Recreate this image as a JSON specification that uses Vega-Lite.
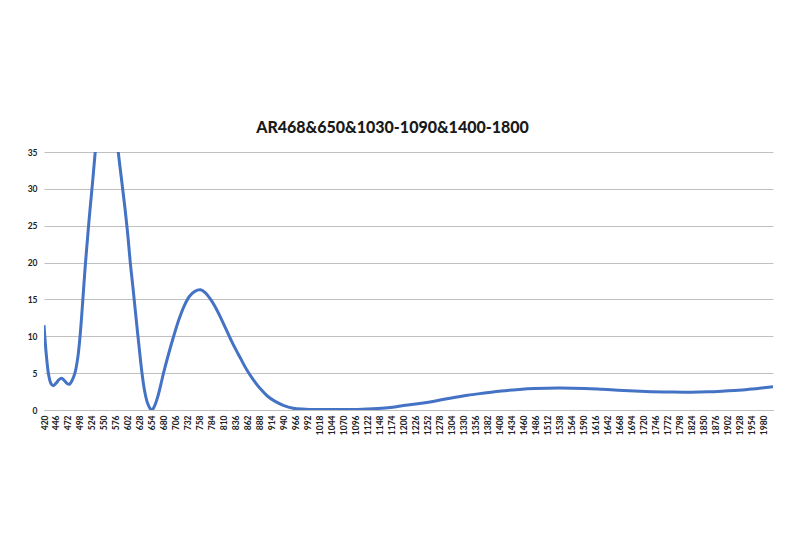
{
  "$schema": "https://vega.github.io/schema/vega-lite/v6.json",
  "autosize": {"type": "none"},
  "width": 729,
  "height": 258,
  "padding": {"left": 44, "top": 152, "right": 27, "bottom": 150},
  "background": "white",
  "title": {
    "text": "AR468&650&1030-1090&1400-1800",
    "font": "Lato",
    "fontSize": 16,
    "fontWeight": 900,
    "color": "#1a1a1a",
    "anchor": "middle",
    "dx": -16,
    "offset": 12
  },
  "data": {
    "values": [
      {"nm": 420, "v": 11.5}, {"nm": 425, "v": 7.5}, {"nm": 430, "v": 4.8}, {"nm": 435, "v": 3.6},
      {"nm": 440, "v": 3.3}, {"nm": 447, "v": 3.7}, {"nm": 452, "v": 4.1}, {"nm": 458, "v": 4.3},
      {"nm": 464, "v": 4.0}, {"nm": 470, "v": 3.6}, {"nm": 475, "v": 3.5}, {"nm": 480, "v": 3.9},
      {"nm": 487, "v": 5.0}, {"nm": 493, "v": 7.0}, {"nm": 498, "v": 9.9}, {"nm": 504, "v": 14.8},
      {"nm": 509, "v": 19.2}, {"nm": 515, "v": 23.8}, {"nm": 520, "v": 27.4}, {"nm": 526, "v": 31.4},
      {"nm": 531, "v": 35.0}, {"nm": 538, "v": 39.5}, {"nm": 546, "v": 43.5}, {"nm": 556, "v": 45.0},
      {"nm": 566, "v": 43.5}, {"nm": 574, "v": 39.5}, {"nm": 581, "v": 35.0}, {"nm": 588, "v": 31.3},
      {"nm": 596, "v": 27.1}, {"nm": 602, "v": 23.5}, {"nm": 607, "v": 20.0}, {"nm": 613, "v": 16.5},
      {"nm": 618, "v": 13.4}, {"nm": 625, "v": 9.2}, {"nm": 632, "v": 5.2}, {"nm": 638, "v": 2.6},
      {"nm": 644, "v": 1.0}, {"nm": 650, "v": 0.2}, {"nm": 654, "v": 0.0}, {"nm": 660, "v": 0.6},
      {"nm": 667, "v": 1.9}, {"nm": 673, "v": 3.4}, {"nm": 679, "v": 5.0}, {"nm": 690, "v": 7.6},
      {"nm": 701, "v": 10.0}, {"nm": 712, "v": 12.2}, {"nm": 723, "v": 14.0}, {"nm": 735, "v": 15.4},
      {"nm": 747, "v": 16.1}, {"nm": 759, "v": 16.3}, {"nm": 770, "v": 15.9}, {"nm": 780, "v": 15.1},
      {"nm": 790, "v": 14.1}, {"nm": 800, "v": 12.9}, {"nm": 815, "v": 10.9}, {"nm": 830, "v": 8.9},
      {"nm": 846, "v": 7.0}, {"nm": 860, "v": 5.4}, {"nm": 875, "v": 4.0}, {"nm": 890, "v": 2.8},
      {"nm": 904, "v": 1.9}, {"nm": 920, "v": 1.2}, {"nm": 940, "v": 0.6}, {"nm": 960, "v": 0.25},
      {"nm": 980, "v": 0.12}, {"nm": 1000, "v": 0.08}, {"nm": 1050, "v": 0.06}, {"nm": 1100, "v": 0.08},
      {"nm": 1143, "v": 0.2}, {"nm": 1170, "v": 0.33}, {"nm": 1193, "v": 0.54}, {"nm": 1230, "v": 0.85},
      {"nm": 1266, "v": 1.2}, {"nm": 1300, "v": 1.6}, {"nm": 1338, "v": 2.0}, {"nm": 1375, "v": 2.3},
      {"nm": 1411, "v": 2.58}, {"nm": 1450, "v": 2.78}, {"nm": 1483, "v": 2.9}, {"nm": 1534, "v": 2.98},
      {"nm": 1592, "v": 2.92}, {"nm": 1630, "v": 2.8}, {"nm": 1664, "v": 2.68}, {"nm": 1700, "v": 2.57},
      {"nm": 1736, "v": 2.49}, {"nm": 1780, "v": 2.43}, {"nm": 1823, "v": 2.41}, {"nm": 1860, "v": 2.47},
      {"nm": 1896, "v": 2.58}, {"nm": 1925, "v": 2.68}, {"nm": 1947, "v": 2.8}, {"nm": 1975, "v": 2.98},
      {"nm": 2000, "v": 3.16}
    ]
  },
  "mark": {"type": "line", "interpolate": "catmull-rom", "color": "#4472C4", "strokeWidth": 3, "clip": true},
  "encoding": {
    "x": {
      "field": "nm",
      "type": "quantitative",
      "scale": {"domain": [420, 2000], "nice": false, "zero": false},
      "axis": {
        "title": null,
        "format": "d",
        "values": [420,446,472,498,524,550,576,602,628,654,680,706,732,758,784,810,836,862,888,914,940,966,992,1018,1044,1070,1096,1122,1148,1174,1200,1226,1252,1278,1304,1330,1356,1382,1408,1434,1460,1486,1512,1538,1564,1590,1616,1642,1668,1694,1720,1746,1772,1798,1824,1850,1876,1902,1928,1954,1980],
        "labelAngle": -90,
        "labelAlign": "right",
        "labelBaseline": "middle",
        "labelFont": "Lato",
        "labelFontSize": 8.5,
        "labelFontWeight": "bold",
        "labelColor": "#222222",
        "labelPadding": 5,
        "labelOverlap": false,
        "labelFlush": false,
        "ticks": false,
        "grid": false,
        "domainColor": "#bfbfbf",
        "domainWidth": 1
      }
    },
    "y": {
      "field": "v",
      "type": "quantitative",
      "scale": {"domain": [0, 35], "nice": false},
      "axis": {
        "title": null,
        "values": [0, 5, 10, 15, 20, 25, 30, 35],
        "labelFont": "Lato",
        "labelFontSize": 8.5,
        "labelFontWeight": "bold",
        "labelColor": "#222222",
        "labelPadding": 7,
        "ticks": false,
        "domain": false,
        "gridColor": "#c0c0c0",
        "gridWidth": 1
      }
    }
  },
  "config": {"view": {"stroke": null}}
}
